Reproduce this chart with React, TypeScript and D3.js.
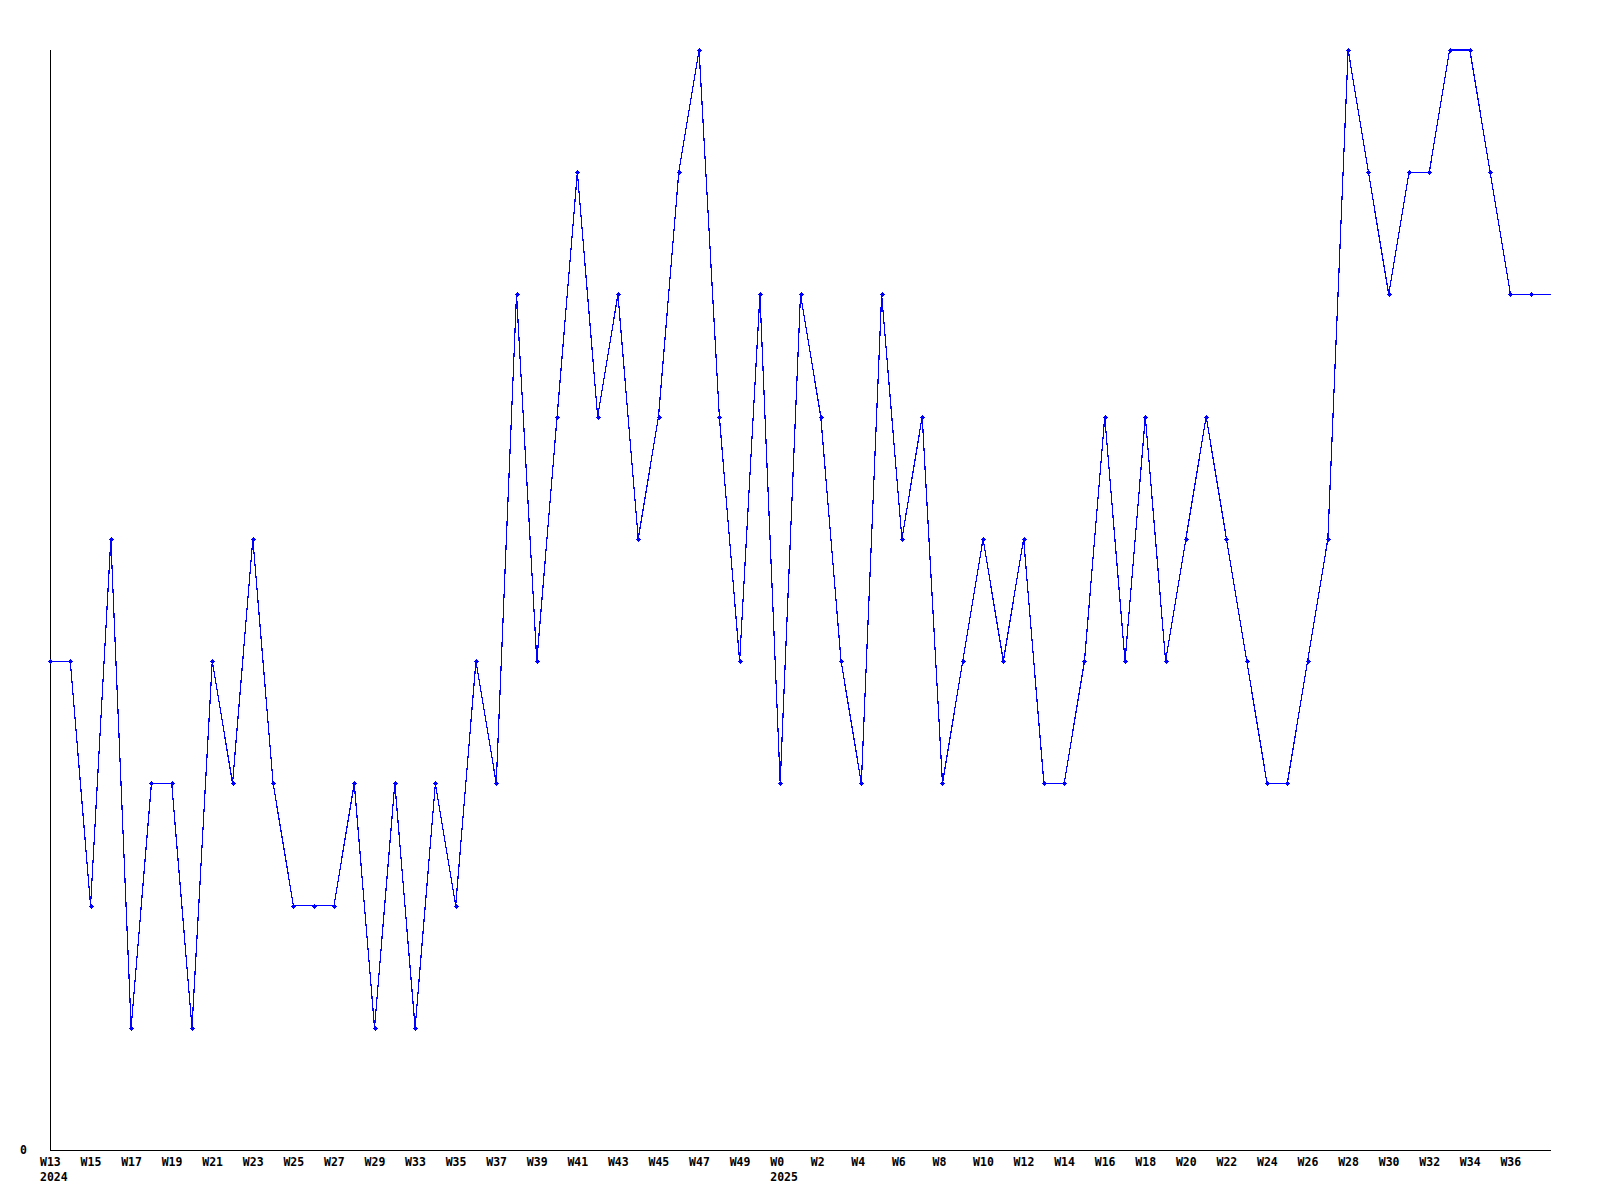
import React from "react";
import * as d3 from "d3";

const values: number[] = [
  4, 4, 2, 5, 1, 3, 3, 1, 4, 3,
  5, 3, 2, 2, 2, 3, 1, 3, 1, 3,
  2, 4, 3, 7, 4, 6, 8, 6, 7, 5,
  6, 8, 9, 6, 4, 7, 3, 7, 6, 4,
  3, 7, 5, 6, 3, 4, 5, 4, 5, 3,
  3, 4, 6, 4, 6, 4, 5, 6, 5, 4,
  3, 3, 4, 5, 9, 8, 7, 8, 8, 9,
  9, 8, 7, 7,
];

const tickLabels: string[] = [
  "W13", "W15", "W17", "W19", "W21", "W23", "W25", "W27", "W29",
  "W33", "W35", "W37", "W39", "W41", "W43", "W45", "W47", "W49",
  "W0", "W2", "W4", "W6", "W8", "W10", "W12", "W14", "W16", "W18",
  "W20", "W22", "W24", "W26", "W28", "W30", "W32", "W34", "W36",
];

const yearLabels: { tick: number; label: string }[] = [
  { tick: 0, label: "2024" },
  { tick: 18, label: "2025" },
];

const yMax = 9;

export default function App() {
  const W = 1600;
  const H = 1200;
  const left = 50;
  const right = 1551;
  const top = 50;
  const bottom = 1150;
  const n = values.length;

  const x = d3.scaleLinear().domain([0, n]).range([left, right]);
  const y = d3.scaleLinear().domain([0, yMax]).range([bottom, top]);

  const line = d3
    .line<number>()
    .x((_, i) => x(i))
    .y((d) => y(d));
  const pathD = (line(values) || "") + "H" + x.range()[1];

  const font = "'DejaVu Sans Mono', 'Liberation Mono', monospace";

  return (
    <div style={{ position: "absolute", left: 0, top: 0 }}>
      <svg width={W} height={H} style={{ display: "block", background: "#fff" }}>
        <rect x={0} y={0} width={W} height={H} fill="#fff" />
        {/* axes */}
        <line x1={left + 0.5} x2={left + 0.5} y1={y(yMax)} y2={bottom} stroke="#000" strokeWidth={1} shapeRendering="crispEdges" />
        <line x1={left} x2={x.range()[1]} y1={bottom + 0.5} y2={bottom + 0.5} stroke="#000" strokeWidth={1} shapeRendering="crispEdges" />
        <text x={20} y={y(0) + 4} fontFamily={font} fontWeight="bold" fontSize={11.5} fill="#000">0</text>
        {/* x tick labels */}
        {tickLabels.map((t, k) => (
          <text key={k} x={x(k * 2) - 10} y={bottom + 16} fontFamily={font} fontWeight="bold" fontSize={11.5} fill="#000">
            {t}
          </text>
        ))}
        {yearLabels.map((yl, k) => (
          <text key={"y" + k} x={x(yl.tick * 2) - 10} y={bottom + 31} fontFamily={font} fontWeight="bold" fontSize={11.5} fill="#000">
            {yl.label}
          </text>
        ))}
        {/* line */}
        <path d={pathD} fill="none" stroke="#0000ff" strokeWidth={1.2} shapeRendering="crispEdges" />
        {/* markers */}
        {values.map((v, i) => {
          const cx = Math.round(x(i));
          const cy = Math.round(y(v));
          return (
            <g key={i} fill="#0000ff" shapeRendering="crispEdges">
              <rect x={cx - 2} y={cy} width={5} height={1} />
              <rect x={cx} y={cy - 2} width={1} height={5} />
              <rect x={cx - 1} y={cy - 1} width={3} height={3} />
            </g>
          );
        })}
      </svg>
    </div>
  );
}
